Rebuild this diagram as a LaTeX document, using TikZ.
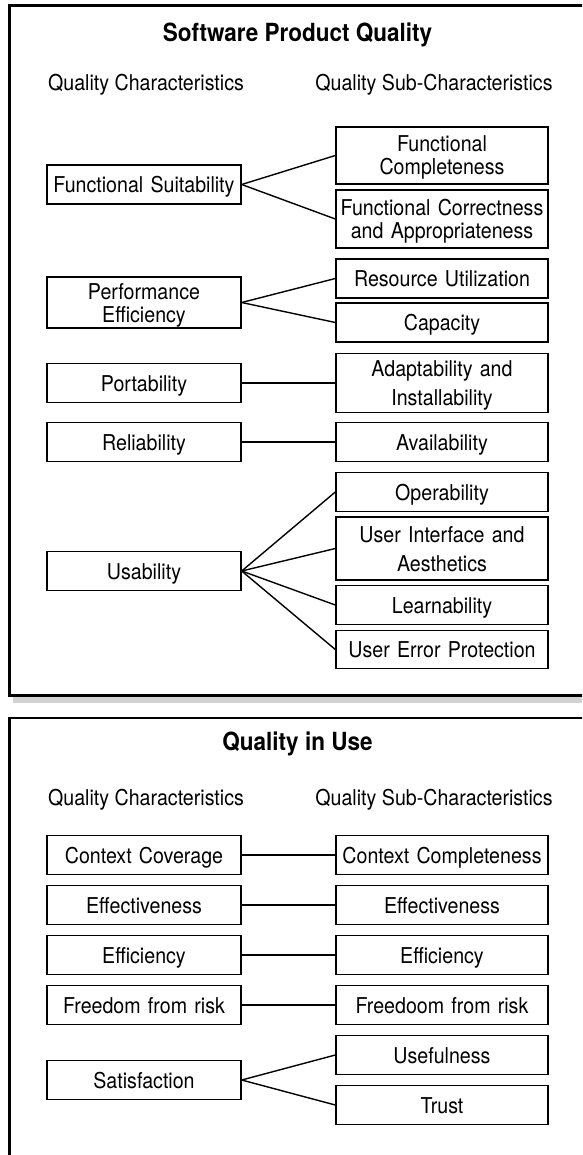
\documentclass[tikz,border=0pt]{standalone}
\usepackage{fontspec}
\setmainfont{TeX Gyre Heros}[FakeStretch=0.9]

\begin{document}
\begin{tikzpicture}[x=1pt,y=-1pt,
	every node/.style={font=\fontsize{21.8}{23}\selectfont,text height=16pt,text depth=0pt},
	qbox/.style={draw,line width=1.4pt,inner sep=0pt,align=center},
	lbox/.style={qbox,minimum width=194pt,text width=192pt},
	rbox/.style={qbox,minimum width=212pt,text width=210pt},
	head/.style={font=\bfseries\fontsize{25}{27}\selectfont,text height=18pt},
	link/.style={line width=1.4pt}]
\useasboundingbox (0,0) rectangle (582,1155);
\clip (0,0) rectangle (582,1155);
\fill[gray!35] (13,696.5) rectangle (600,703);
\draw[line width=2.2pt,fill=white] (9.5,5.5) rectangle (600,695.5);
\draw[line width=2.2pt] (9.5,1170) -- (9.5,718) -- (600,718);
\node[head] (spq) at (297.5,33) {Software Product Quality};
\node (spqc) at (146,83) {Quality Characteristics};
\node (spqs) at (434,83) {Quality Sub-Characteristics};
\node[head] (qiu) at (297.5,741) {Quality in Use};
\node (qiuc) at (146,797) {Quality Characteristics};
\node (qius) at (434,797) {Quality Sub-Characteristics};
\foreach \nm/\yy/\hh/\dd/\txt in {fs/184.5/39/0/Functional Suitability,
		pe/302.5/51/23/Performance\\Efficiency, port/383/39/0/Portability,
		rel/442/38.5/0/Reliability, usa/571/38.5/0/Usability,
		cc/855/38.5/0/Context Coverage, eff/905/38.5/0/Effectiveness,
		effic/955/38.5/0/Efficiency, fr/1005/38.5/0/Freedom from risk,
		sat/1080/38.5/0/Satisfaction} {
		\node[lbox,minimum height=\hh,text depth=\dd] (\nm) at (144,\yy) {\txt};}
\foreach \nm/\yy/\hh/\dd/\txt in {fc/155.5/57/23/Functional\\Completeness,
		fca/219/58/23/Functional Correctness\\and Appropriateness,
		ru/278.5/39/0/Resource Utilization, cap/322.5/39/0/Capacity,
		ai/383/59/29/Adaptability and\\[6pt]Installability, avail/442/38.5/0/Availability,
		oper/492/38.5/0/Operability, uia/548.5/63/29/User Interface and\\[6pt]Aesthetics,
		learn/605/38.5/0/Learnability, uep/649.5/38.5/0/User Error Protection,
		ccr/855/38.5/0/Context Completeness, effr/905/38.5/0/Effectiveness,
		efficr/955/38.5/0/Efficiency, frr/1005/38.5/0/Freedoom from risk,
		use/1055/38.5/0/Usefulness, trust/1105/38.5/0/Trust} {
		\node[rbox,minimum height=\hh,text depth=\dd] (\nm) at (442,\yy) {\txt};}
\foreach \a/\b in {fs/fc,fs/fca,pe/ru,pe/cap,port/ai,rel/avail,usa/oper,usa/uia,
		usa/learn,usa/uep,cc/ccr,eff/effr,effic/efficr,fr/frr,sat/use,sat/trust} {
		\draw[link] (\a.east) -- (\b.west);}
\end{tikzpicture}
\end{document}
